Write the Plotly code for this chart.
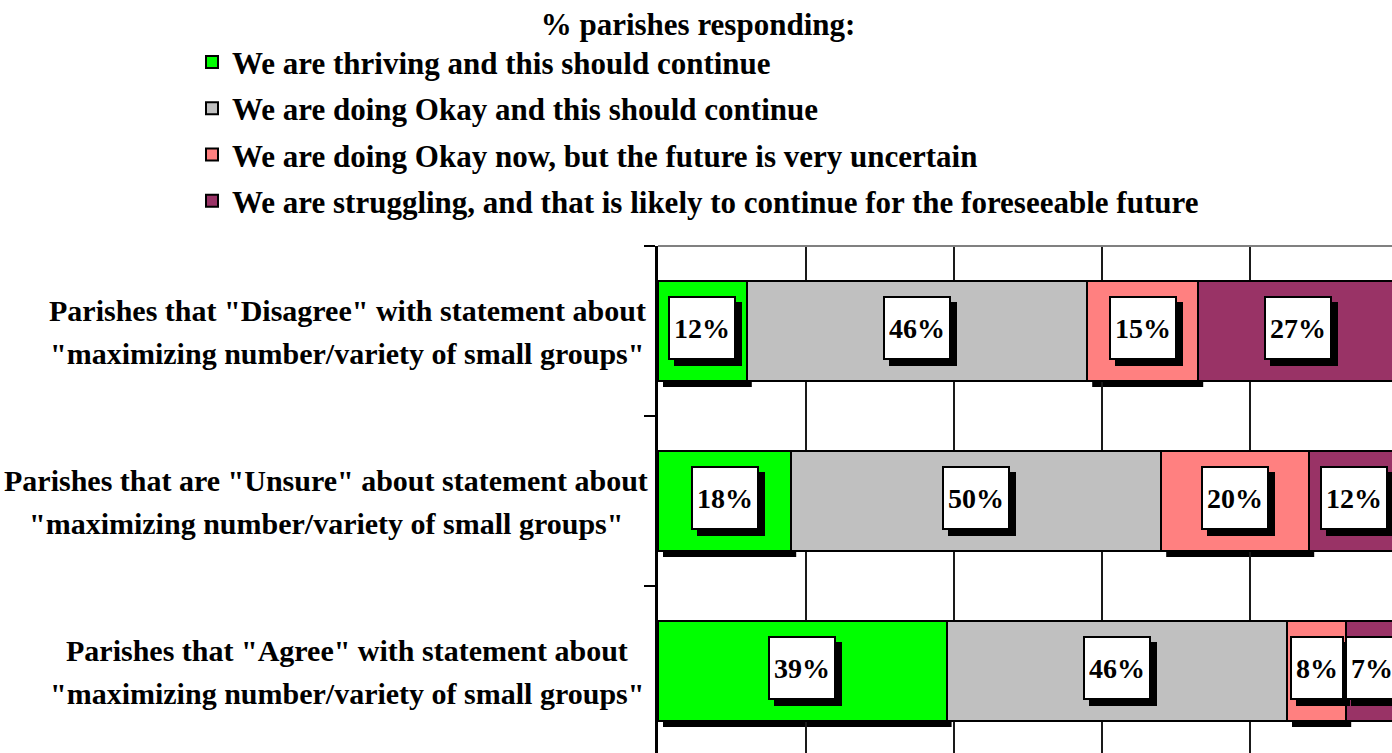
import plotly.graph_objects as go

# rows, top to bottom
categories = ["Disagree", "Unsure", "Agree"]
label_lines = [
    ['Parishes that "Disagree" with statement about', '"maximizing number/variety of small groups"'],
    ['Parishes that are "Unsure" about statement about', '"maximizing number/variety of small groups"'],
    ['Parishes that "Agree" with statement about', '"maximizing number/variety of small groups"'],
]

series_names = [
    "We are thriving and this should continue",
    "We are doing Okay and this should continue",
    "We are doing Okay now, but the future is very uncertain",
    "We are struggling, and that is likely to continue for the foreseeable future",
]
thriving = [12, 18, 39]
okay = [46, 50, 46]
uncertain = [15, 20, 8]
struggling = [27, 12, 7]

series_values = [thriving, okay, uncertain, struggling]
colors = ["#00FF00", "#C0C0C0", "#FF8080", "#993366"]
has_shadow = [True, False, True, False]

FONT = "Palatino Linotype, Book Antiqua, Palatino, Liberation Serif, serif"

W, H = 1392, 753
L, T = 658, 246
PX_PER_CAT = 170
PX_PER_UNIT = 740  # pixels for 100%
plot_w = W - L
plot_h = H - T

fig = go.Figure()

for name, vals, col in zip(series_names, series_values, colors):
    fig.add_trace(go.Bar(
        y=categories,
        x=[v / 100 for v in vals],
        orientation="h",
        name=name,
        legendgroup=name,
        marker=dict(color=col, line=dict(color="black", width=2)),
        hoverinfo="x+y",
    ))

bar_w = 100 / PX_PER_CAT
dx = 5 / PX_PER_UNIT
dy = 6 / PX_PER_CAT

shapes = []
annotations = []

cum = [0.0] * len(categories)
for s, vals in enumerate(series_values):
    for i, v in enumerate(vals):
        x0 = cum[i]
        x1 = cum[i] + v / 100
        if has_shadow[s]:
            shapes.append(dict(
                type="rect", xref="x", yref="y", layer="below",
                x0=x0 + dx, x1=x1 + dx,
                y0=i - bar_w / 2 + dy, y1=i + bar_w / 2 + dy,
                fillcolor="black", line=dict(width=0),
            ))
        xc = (x0 + x1) / 2
        # shadow box then white box
        for shadow in (True, False):
            annotations.append(dict(
                x=xc, y=i, xref="x", yref="y",
                text=f"<b>{v}%</b>", showarrow=False,
                font=dict(family=FONT, size=28, color="black"),
                bgcolor="black" if shadow else "white",
                bordercolor="black", borderwidth=2, borderpad=4,
                height=52,
                xshift=6 if shadow else 0,
                yshift=(3 - 6) if shadow else 3,
            ))
        cum[i] = x1

# category labels: two centred lines each
label_center_px = [347, 326, 347]
for i, (lines, cx) in enumerate(zip(label_lines, label_center_px)):
    for k, line in enumerate(lines):
        annotations.append(dict(
            x=(cx - L) / plot_w, y=i, xref="paper", yref="y",
            text=f"<b>{line}</b>", showarrow=False,
            xanchor="center", yanchor="middle",
            font=dict(family=FONT, size=30, color="black"),
            yshift=21 if k == 0 else -22,
        ))

# grey top border of plot area
shapes.append(dict(type="line", xref="paper", yref="paper",
                   x0=0, x1=1, y0=1, y1=1,
                   line=dict(color="#808080", width=2)))

fig.update_layout(
    width=W, height=H,
    margin=dict(l=L, r=0, t=T, b=0, autoexpand=False),
    paper_bgcolor="white", plot_bgcolor="white",
    barmode="stack", bargap=1 - bar_w,
    font=dict(family=FONT, size=30, color="black"),
    shapes=shapes, annotations=annotations,
    showlegend=True,
    legend=dict(
        x=(192 - L) / plot_w, y=(H + 5) / plot_h,
        xanchor="left", yanchor="top",
        traceorder="grouped", tracegroupgap=3,
        font=dict(family=FONT, size=31, color="black", weight="bold"),
        title=dict(text="<b>% parishes responding:</b>", side="top center",
                   font=dict(family=FONT, size=31)),
        bgcolor="rgba(0,0,0,0)",
    ),
)

fig.update_xaxes(
    range=[0, plot_w / PX_PER_UNIT],
    showticklabels=False, ticks="",
    showgrid=True, dtick=0.2, gridcolor="#1a1a1a", gridwidth=2,
    zeroline=False, showline=False,
)
fig.update_yaxes(
    type="category", categoryorder="array", categoryarray=categories,
    range=[-0.5 + plot_h / PX_PER_CAT, -0.5],
    showticklabels=False, showgrid=False, zeroline=False,
    showline=True, linecolor="black", linewidth=3,
    ticks="outside", tickson="boundaries", ticklen=11, tickwidth=2, tickcolor="black",
)

fig.write_html("out.html", config={"displayModeBar": False},
               post_script="document.body.style.margin='0px';")
